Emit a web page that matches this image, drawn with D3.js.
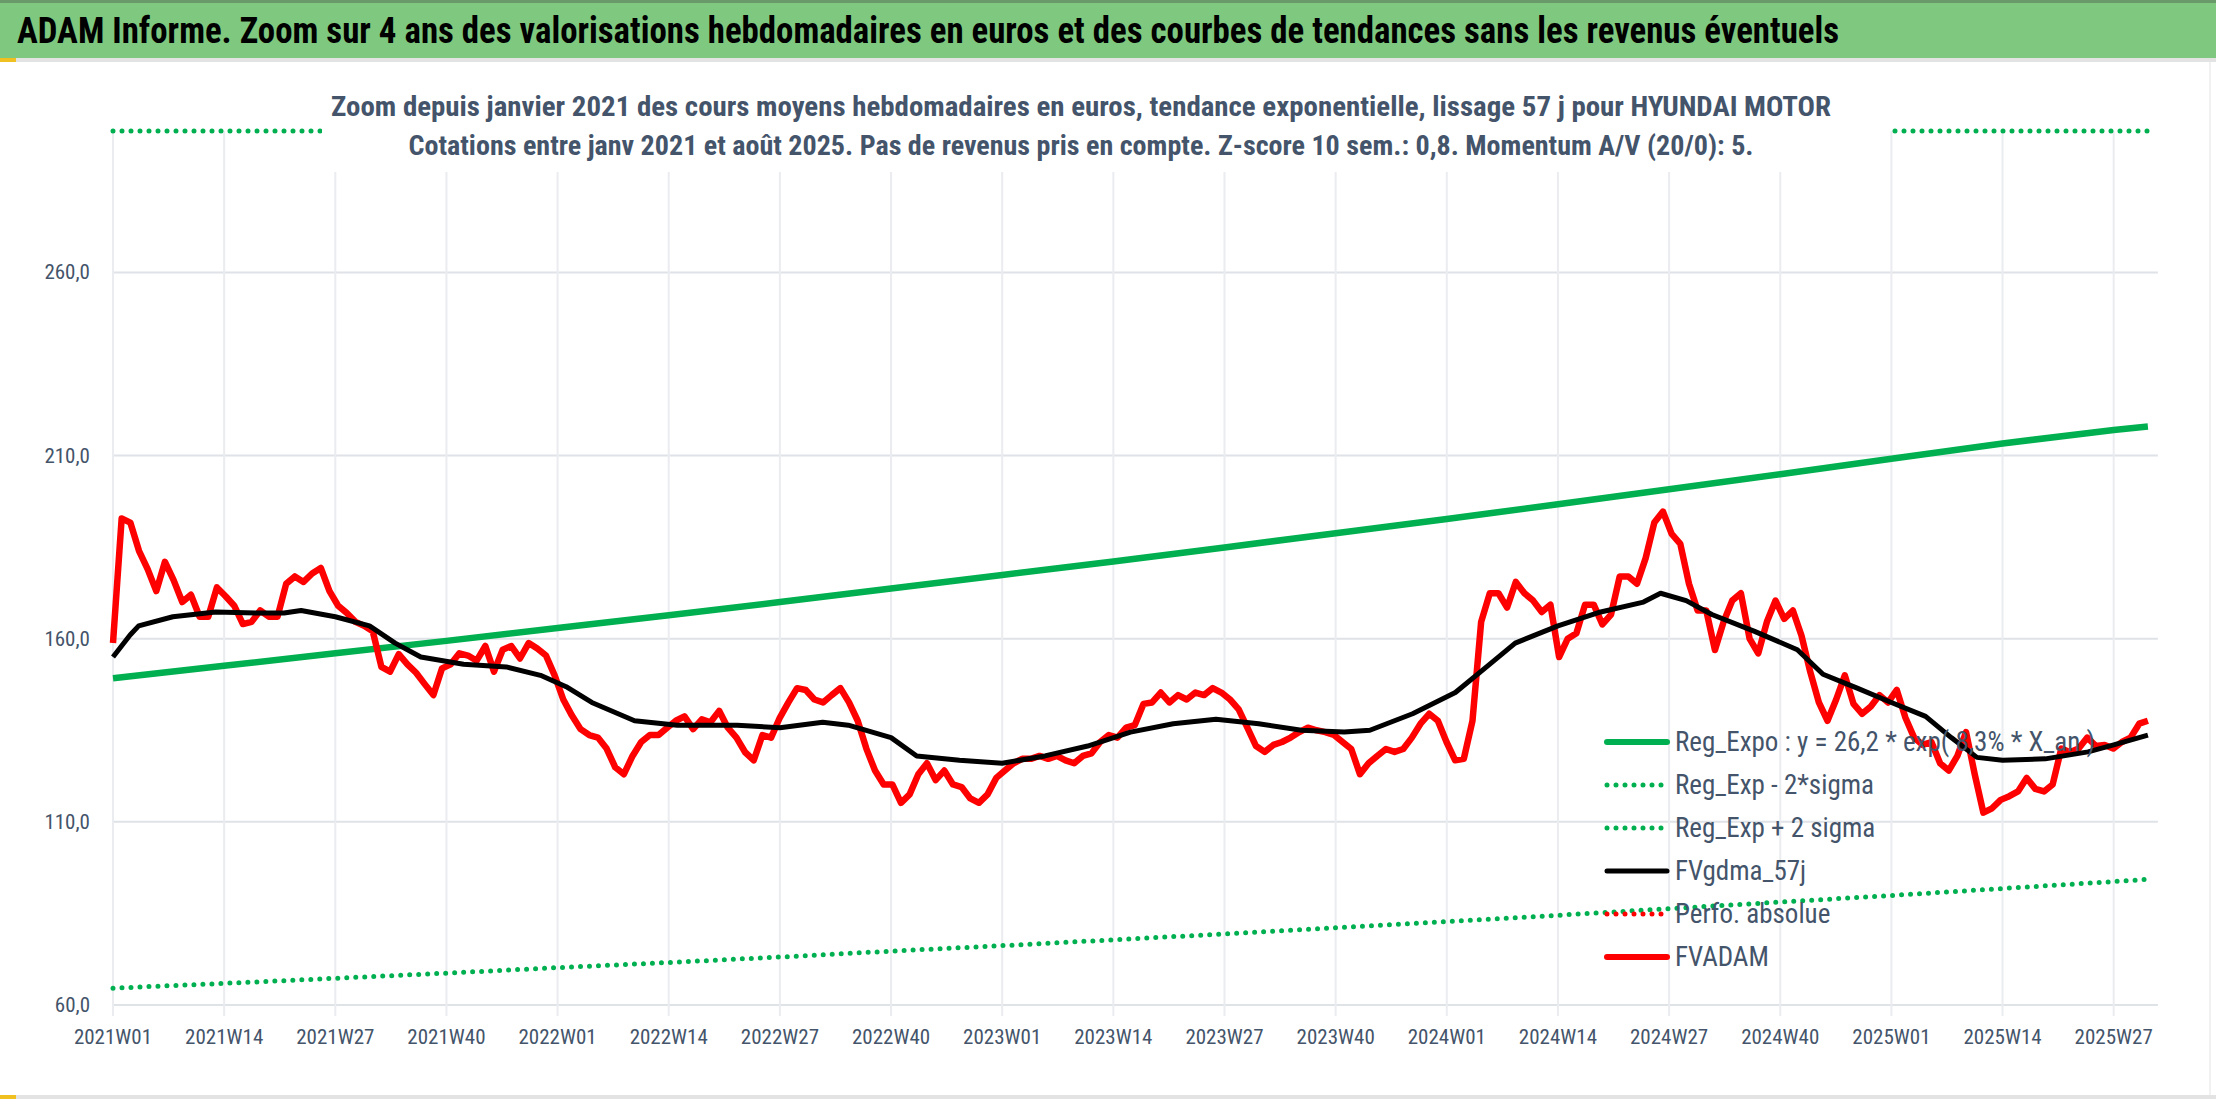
<!DOCTYPE html>
<html>
<head>
<meta charset="utf-8">
<script src="https://cdn.jsdelivr.net/npm/d3@7"></script>
<style>
  body { margin: 0; background: #fff; }
  text { font-family: "Liberation Sans Narrow", "Roboto Condensed", "Liberation Sans", sans-serif; }
</style>
</head>
<body>
<svg id="chart" width="2216" height="1102"></svg>
<script>
// week labels every 13 weeks from 2021W01
const tickLabels = ["2021W01","2021W14","2021W27","2021W40","2022W01","2022W14","2022W27","2022W40",
  "2023W01","2023W14","2023W27","2023W40","2024W01","2024W14","2024W27","2024W40","2025W01","2025W14","2025W27"];
const yTicks = [60, 110, 160, 210, 260];

// trend lines read at tick weeks (plus last week)
const trendWeeks = [0,13,26,39,52,65,78,91,104,117,130,143,156,169,182,195,208,221,234,238];
const regExpo = [149.2,152.6,156.0,159.4,162.9,166.4,170.0,173.7,177.4,181.1,184.9,188.8,192.7,196.7,200.8,204.9,209.1,213.3,217.0,217.9];
const regLow = [64.6,65.9,67.3,68.7,70.2,71.6,73.1,74.7,76.2,77.8,79.4,81.1,82.8,84.5,86.3,88.1,89.9,91.8,93.7,94.3];
const regHigh = [344.7,351.8,359.2,366.8,374.5,382.3,390.2,398.5,406.8,415.1,423.9,432.7,441.7,450.9,460.4,469.9,479.8,489.7,500.1,503.3];

// FVgdma_57j (smoothed)
const gdmaWeeks = [0,2,3,7,12,17,20,22,26,30,33,36,41,46,50,53,56,61,66,73,78,83,86,91,94,99,104,109,114,119,124,129,134,139,144,147,152,157,161,164,169,174,179,181,184,187,192,197,200,204,208,212,215,218,221,226,231,234,238];
const gdma = [155,161,163.5,166,167.3,167,167,167.7,166,163.5,158.8,155,153,152.3,150,146.9,142.6,137.6,136.4,136.4,135.7,137.2,136.4,133,128,126.8,126,128,130.7,134.5,136.8,138,136.8,135,134.5,135,139.5,145.3,153,158.8,163.5,167.3,170,172.4,170.4,166.6,162,157,150.3,146.5,142.6,138.8,133,127.6,126.8,127.2,129.1,131,133.7];

// FVADAM weekly
const fvadam = [158.8,192.8,191.7,184,179,173,181,176,170,172,166,166,174,171.6,169,164,164.6,167.7,166,166,
  175,177,175.5,177.8,179.3,173,169,167,164.6,163.5,162,152.3,151,155.8,153,150.7,147.6,144.6,151.9,153,
  156,155.4,154,158,151,157,158,154.6,158.8,157.3,155.4,150,143.4,139,135.3,133.7,133,130,124.9,123,
  128,131.8,133.7,133.7,135.7,137.6,138.8,135.3,138,137.2,140.3,135.7,133,129,126.8,133.7,133,138.4,142.6,146.5,
  146,143.4,142.6,144.6,146.5,142.6,137.6,130,124,120.2,120.2,115.2,117.5,123,126,121.4,124,120.2,119.5,116.4,
  115.2,117.5,122,124,126,127.2,127.2,128,127.2,128,126.8,126,128,128.7,131.8,133.7,133,135.7,136.4,142.2,
  142.6,145.3,142.6,144.6,143.4,145.3,144.6,146.5,145.3,143.4,140.7,135.7,130.7,129.1,131,131.8,133,134.5,135.7,135,
  134.5,133.7,131.8,129.9,123,126,128,129.9,129.1,129.9,133,136.8,139.5,137.6,131.8,126.8,127.2,137.6,164.6,172.4,
  172.4,168.5,175.5,172.4,170.4,167.3,169.3,155,160,161.5,169.3,169.3,163.9,166.6,177,177,175,182,191.7,194.7,
  188.6,185.9,175,167.7,167.7,156.9,164.6,170.4,172.4,160,156,164.6,170.4,165.4,167.7,160.8,151,142.6,137.6,143.4,
  150,142.2,139.5,141.5,144.6,142.6,146,138.4,133,131,131.8,126,124,128,134.5,123,112.5,113.7,116,117,
  118.3,122,119,118.3,120.2,130,129,130,133,130.7,131,130,131.8,133,136.8,137.6];

const svg = d3.select("#chart");
const W = 2216, H = 1102;
const lastWeek = 238;

// header bar
svg.append("rect").attr("x", 0).attr("y", 0).attr("width", W).attr("height", 58).attr("fill", "#7ec97f");
svg.append("rect").attr("x", 0).attr("y", 0).attr("width", W).attr("height", 3).attr("fill", "#6a9a6a");
svg.append("rect").attr("x", 0).attr("y", 58).attr("width", W).attr("height", 4).attr("fill", "#e3e3e3");
svg.append("rect").attr("x", 0).attr("y", 58).attr("width", 16).attr("height", 4).attr("fill", "#f0c020");
svg.append("text").attr("x", 17).attr("y", 43)
  .attr("font-size", 37).attr("font-weight", "bold").attr("fill", "#000")
  .attr("textLength", 1822).attr("lengthAdjust", "spacingAndGlyphs")
  .text("ADAM Informe. Zoom sur 4 ans des valorisations hebdomadaires en euros et des courbes de tendances sans les revenus éventuels");

svg.append("rect").attr("x", 0).attr("y", 1095).attr("width", W).attr("height", 4).attr("fill", "#e3e3e3");
svg.append("rect").attr("x", 0).attr("y", 1095).attr("width", 16).attr("height", 4).attr("fill", "#f0c020");
svg.append("line").attr("x1", 2210).attr("x2", 2210).attr("y1", 62).attr("y2", 1095).attr("stroke", "#e3e3e3");

const x0 = 113, x1 = 113 + 8.55 * lastWeek;
const x = d3.scaleLinear().domain([0, lastWeek]).range([x0, x1]);
const y = d3.scaleLinear().domain([60, 298.6]).range([1005, 131]).clamp(true);

const g = svg.append("g");

// gridlines
g.selectAll(".hg").data(yTicks).enter().append("line")
  .attr("x1", x0).attr("x2", x1 + 10).attr("y1", d => y(d)).attr("y2", d => y(d))
  .attr("stroke", "#dfe2e7").attr("stroke-width", 2);
g.selectAll(".vg").data(tickLabels).enter().append("line")
  .attr("x1", (d, i) => x(i * 13)).attr("x2", (d, i) => x(i * 13))
  .attr("y1", 131).attr("y2", 1016)
  .attr("stroke", "#eaecf0").attr("stroke-width", 2);

// axis labels
g.selectAll(".yl").data(yTicks).enter().append("text")
  .attr("x", 90).attr("y", d => y(d) + 7).attr("text-anchor", "end")
  .attr("font-size", 21).attr("fill", "#44546a").text(d => d.toFixed(1).replace(".", ","));
g.selectAll(".xl").data(tickLabels).enter().append("text")
  .attr("x", (d, i) => x(i * 13)).attr("y", 1044).attr("text-anchor", "middle")
  .attr("font-size", 21).attr("fill", "#44546a").text(d => d);

const line = d3.line().x(d => x(d[0])).y(d => y(d[1]));
const pair = (ws, vs) => ws.map((w, i) => [w, vs[i]]);

function draw(data, color, width, dotted) {
  const p = g.append("path").datum(data).attr("d", line).attr("fill", "none")
    .attr("stroke", color).attr("stroke-width", width).attr("stroke-linejoin", "round");
  if (dotted) p.attr("stroke-dasharray", "0 9").attr("stroke-linecap", "round");
}

draw(pair(trendWeeks, regLow), "#00b050", 5, true);
draw(pair(trendWeeks, regHigh), "#00b050", 5, true);
draw(pair(trendWeeks, regExpo), "#00b050", 6.5, false);
draw(fvadam.map((v, i) => [i * lastWeek / (fvadam.length - 1), v]), "#ff0000", 6.5, false);
draw(pair(gdmaWeeks, gdma), "#000000", 5, false);

// subtitle with white background
svg.append("rect").attr("x", 322).attr("y", 84).attr("width", 1568).attr("height", 88).attr("fill", "#fff");
svg.append("text").attr("x", 1081).attr("y", 116).attr("text-anchor", "middle")
  .attr("font-size", 27).attr("font-weight", "bold").attr("fill", "#44546a")
  .attr("textLength", 1500).attr("lengthAdjust", "spacingAndGlyphs")
  .text("Zoom depuis janvier 2021 des cours moyens hebdomadaires en euros, tendance exponentielle, lissage 57 j pour HYUNDAI MOTOR");
svg.append("text").attr("x", 1081).attr("y", 155).attr("text-anchor", "middle")
  .attr("font-size", 27).attr("font-weight", "bold").attr("fill", "#44546a")
  .attr("textLength", 1345).attr("lengthAdjust", "spacingAndGlyphs")
  .text("Cotations entre janv 2021 et août 2025. Pas de revenus pris en compte. Z-score 10 sem.: 0,8. Momentum A/V (20/0): 5.");

// legend
const legendItems = [
  { label: "Reg_Expo : y = 26,2 * exp( 8,3% *  X_an )", color: "#00b050", dotted: false, w: 6 },
  { label: "Reg_Exp - 2*sigma", color: "#00b050", dotted: true, w: 5 },
  { label: "Reg_Exp + 2 sigma", color: "#00b050", dotted: true, w: 5 },
  { label: "FVgdma_57j", color: "#000000", dotted: false, w: 5 },
  { label: "Perfo. absolue", color: "#ff0000", dotted: true, w: 5 },
  { label: "FVADAM", color: "#ff0000", dotted: false, w: 6 }
];
const lg = svg.append("g");
legendItems.forEach((d, i) => {
  const ly = 742 + i * 43;
  const l = lg.append("line").attr("x1", 1607).attr("x2", 1667).attr("y1", ly).attr("y2", ly)
    .attr("stroke", d.color).attr("stroke-width", d.w).attr("stroke-linecap", "round");
  if (d.dotted) l.attr("stroke-dasharray", "0 9");
  lg.append("text").attr("x", 1675).attr("y", ly + 9).attr("font-size", 27)
    .attr("fill", "#44546a").text(d.label);
});
</script>
</body>
</html>
